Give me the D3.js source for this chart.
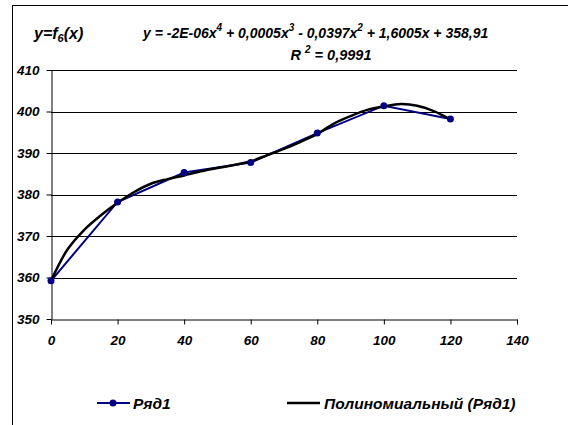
<!DOCTYPE html>
<html>
<head>
<meta charset="utf-8">
<script src="https://cdn.jsdelivr.net/npm/d3@7"></script>
<style>
	body { margin: 0; background: #fff; }
	svg text { font-family: "Liberation Sans", Arial, sans-serif; font-weight: bold; font-style: italic; fill: #000; }
</style>
</head>
<body>
<div id="chart"></div>
<script>
// Ряд1 – measured values
const xValues = [0, 20, 40, 60, 80, 100, 120];
const yValues = [359.2, 378.2, 385.3, 387.7, 394.8, 401.4, 398.2];

// polynomial trendline as drawn
const trendX = [0, 5, 10, 15, 20, 25, 30, 35, 40, 45, 50, 55, 60, 65, 70, 75, 80, 85, 90, 95, 100, 105, 110, 115, 120];
const trendY = [359.2, 366.8, 371.5, 375.0, 378.0, 380.6, 382.6, 383.7, 384.6, 385.6, 386.4, 387.1, 388.0, 389.5, 391.0, 392.7, 394.6, 397.1, 398.9, 400.4, 401.2, 401.8, 401.4, 400.1, 398.1];

const xTicks = [0, 20, 40, 60, 80, 100, 120, 140];
const yTicks = [350, 360, 370, 380, 390, 400, 410];

const seriesName = 'Ряд1';
const trendName = 'Полиномиальный (Ряд1)';
const rSquared = '0,9991';

const width = 568, height = 425;

let svg = d3.select('#chart').append('svg')
	.attr('width', width)
	.attr('height', height);

// chart frame
svg.append('rect')
	.attr('x', 12.5).attr('y', 5.5)
	.attr('width', 700).attr('height', 600)
	.attr('fill', 'none')
	.attr('stroke', '#000')
	.attr('stroke-width', 1);

let x = d3.scaleLinear().domain([0, 140]).range([51, 517]);
let y = d3.scaleLinear().domain([350, 410]).range([319, 70]);

// gridlines
svg.append('g')
	.selectAll('line')
	.data(yTicks.slice(1))
	.join('line')
	.attr('x1', x(0)).attr('x2', x(140))
	.attr('y1', d => Math.round(y(d)) + 0.5)
	.attr('y2', d => Math.round(y(d)) + 0.5)
	.attr('stroke', '#000')
	.attr('stroke-width', 1);

// axes
let axisX = d3.axisBottom(x).tickValues(xTicks).tickSize(5).tickSizeOuter(0).tickPadding(6);
let axisY = d3.axisLeft(y).tickValues(yTicks).tickSize(5).tickSizeOuter(0).tickPadding(6);

let gx = svg.append('g')
	.attr('transform', `translate(0,${Math.round(y(350)) + 0.5})`)
	.call(axisX);
let gy = svg.append('g')
	.attr('transform', `translate(${Math.round(x(0)) + 0.5},0)`)
	.call(axisY);

[gx, gy].forEach(g => {
	g.select('.domain').attr('stroke', '#000');
	g.selectAll('.tick line').attr('stroke', '#000');
	g.selectAll('.tick text')
		.attr('font-family', '"Liberation Sans", Arial, sans-serif')
		.attr('font-size', 13.5)
		.attr('font-weight', 'bold')
		.attr('font-style', 'italic')
		.attr('fill', '#000');
});
gx.selectAll('.tick text').attr('dy', '1.05em');
gy.selectAll('.tick text').attr('x', -12);

// series line
let line = d3.line()
	.x((d, i) => x(xValues[i]))
	.y(d => y(d));

svg.append('path')
	.datum(yValues)
	.attr('d', line)
	.attr('fill', 'none')
	.attr('stroke', '#000080')
	.attr('stroke-width', 2);

// trendline
let trend = d3.line()
	.x((d, i) => x(trendX[i]))
	.y(d => y(d))
	.curve(d3.curveCatmullRom);

svg.append('path')
	.datum(trendY)
	.attr('d', trend)
	.attr('fill', 'none')
	.attr('stroke', '#000')
	.attr('stroke-width', 2.5);

// markers
svg.append('g')
	.selectAll('circle')
	.data(yValues)
	.join('circle')
	.attr('cx', (d, i) => x(xValues[i]))
	.attr('cy', d => y(d))
	.attr('r', 3.5)
	.attr('fill', '#000080');

// titles
let fn = svg.append('text')
	.attr('x', 34).attr('y', 39)
	.attr('font-size', 16);
fn.append('tspan').text('y=f');
fn.append('tspan').attr('font-size', 11).attr('dy', 3).text('6');
fn.append('tspan').attr('dy', -3).text('(x)');

let eq = svg.append('text')
	.attr('x', 143).attr('y', 38)
	.attr('font-size', 14);
eq.append('tspan').text('y = -2E-06x');
eq.append('tspan').attr('font-size', 10).attr('dy', -7).text('4');
eq.append('tspan').attr('dy', 7).text(' + 0,0005x');
eq.append('tspan').attr('font-size', 10).attr('dy', -7).text('3');
eq.append('tspan').attr('dy', 7).text(' - 0,0397x');
eq.append('tspan').attr('font-size', 10).attr('dy', -7).text('2');
eq.append('tspan').attr('dy', 7).text(' + 1,6005x + 358,91');

let r2 = svg.append('text')
	.attr('x', 331).attr('y', 60)
	.attr('text-anchor', 'middle')
	.attr('font-size', 14.5);
r2.append('tspan').text('R ');
r2.append('tspan').attr('font-size', 10).attr('dy', -7).text('2');
r2.append('tspan').attr('dy', 7).text(' = ' + rSquared);

// legend
let legend = svg.append('g');
legend.append('line')
	.attr('x1', 97).attr('x2', 130).attr('y1', 403).attr('y2', 403)
	.attr('stroke', '#000080').attr('stroke-width', 2);
legend.append('circle')
	.attr('cx', 113).attr('cy', 403).attr('r', 3.5)
	.attr('fill', '#000080');
legend.append('text')
	.attr('x', 133).attr('y', 408.5)
	.attr('font-size', 15.5)
	.text(seriesName);
legend.append('line')
	.attr('x1', 287).attr('x2', 320).attr('y1', 403).attr('y2', 403)
	.attr('stroke', '#000').attr('stroke-width', 2.5);
legend.append('text')
	.attr('x', 324).attr('y', 408.5)
	.attr('font-size', 15.5)
	.text(trendName);
</script>
</body>
</html>
